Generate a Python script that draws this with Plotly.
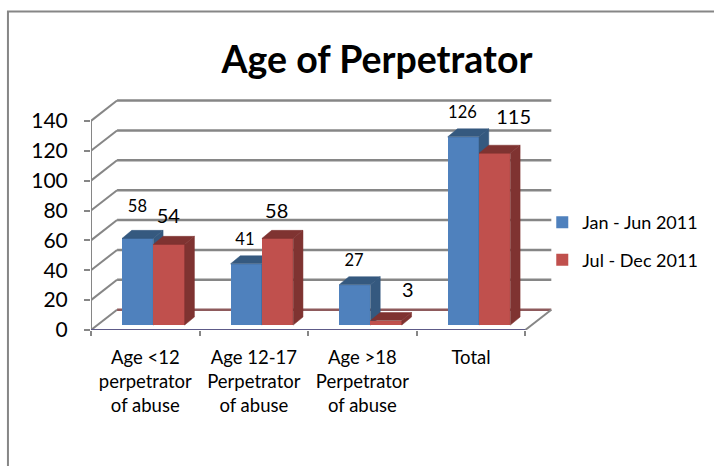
import plotly.graph_objects as go

# ---- data ----
title_text = "Age of Perpetrator"
categories = ["Age &lt;12<br>perpetrator<br>of abuse", "Age 12-17<br>Perpetrator<br>of abuse",
              "Age &gt;18<br>Perpetrator<br>of abuse", "Total"]
series_names = ["Jan - Jun 2011", "Jul - Dec 2011"]
jan_jun = [58, 41, 27, 126]
jul_dec = [54, 58, 3, 115]
y_ticks = [0, 20, 40, 60, 80, 100, 120, 140]

# ---- styling / geometry ----
BLUE, BLUE_DK = "#4F81BD", "#35597F"
RED, RED_DK = "#C0504D", "#7F3331"
GRID = "#868686"
FONT = "Lato, Carlito, Calibri, sans-serif"
W, H = 714, 466
PX_X, PX_Y = 108.5, 1.498         # pixels per category / per y unit
L, B = 91, 330.3                  # pixel position of the axes origin
X_MAX, Y_MAX = 4.32, 158
R, T = L + X_MAX * PX_X, B - Y_MAX * PX_Y
WALL_DX, WALL_DY = 0.24, 13.6     # depth of the back wall
BAR_W = 0.2885
BAR_SHIFT = 0.074
BAR_BASE = 3.3
BAR_DX, BAR_DY = 0.09, 5.4        # depth of a bar

blue_lab_dx = [-0.002, -0.012, -0.007, -0.008]
blue_lab_dy = [23.6, 18.8, 18.8, 18.4]
red_lab_dx = [-0.006, -0.008, 0.2, 0.175]
red_lab_dy = [20.9, 20.5, 22.5, 26.0]

n = len(categories)


def px(x):
    return (x - L) / (R - L)


def py(y):
    return (B - y) / (B - T)


def faces(x0, top):
    """Side and top parallelograms of a bar whose front starts at x0."""
    x1 = x0 + BAR_W
    y0, y1 = BAR_BASE, BAR_BASE + top
    side = ([x1, x1 + BAR_DX, x1 + BAR_DX, x1, x1], [y0, y0 + BAR_DY, y1 + BAR_DY, y1, y0])
    lid = ([x0, x1, x1 + BAR_DX, x0 + BAR_DX, x0], [y1, y1, y1 + BAR_DY, y1 + BAR_DY, y1])
    return side, lid


def line(fig_, xs, ys, colour, width):
    fig_.add_trace(go.Scatter(x=xs, y=ys, mode="lines", cliponaxis=False,
                              line=dict(color=colour, width=width),
                              hoverinfo="skip", showlegend=False))


fig = go.Figure()

# walls: tick lines running round the side wall and along the back wall
for v in y_ticks:
    line(fig, [0, WALL_DX], [v, v + WALL_DY], GRID, 2)
    line(fig, [WALL_DX, n + WALL_DX], [v + WALL_DY, v + WALL_DY], "#8E5A5C" if v == 0 else GRID, 2.5)
line(fig, [n, n + WALL_DX], [0, WALL_DY], GRID, 2)
line(fig, [0, 0], [0, y_ticks[-1]], GRID, 2)
line(fig, [0, n], [0, 0], "#5D5A88", 2)


def add_series(name, values, offset, front, dark, ax):
    xs = [i + 0.5 + BAR_SHIFT + offset for i in range(n)]
    fig.add_trace(go.Bar(x=xs, y=values, base=BAR_BASE, width=BAR_W, name=name,
                         marker=dict(color=front, line=dict(width=0)),
                         xaxis="x" + ax, yaxis="y" + ax, legendgroup=name))
    for i, v in enumerate(values):
        left = xs[i] - BAR_W / 2
        side, lid = faces(left, v)
        for (fx, fy), c in ((side, dark), (lid, dark)):
            fig.add_trace(go.Scatter(x=fx, y=fy, mode="lines", fill="toself", fillcolor=c,
                                     line=dict(color=c, width=0.5), cliponaxis=False,
                                     xaxis="x" + ax, yaxis="y" + ax, hoverinfo="skip",
                                     showlegend=False))


add_series(series_names[0], jan_jun, -BAR_W / 2, BLUE, BLUE_DK, "2")
add_series(series_names[1], jul_dec, BAR_W / 2, RED, RED_DK, "3")

# data labels
fig.add_trace(go.Scatter(
    x=[i + 0.5 + BAR_SHIFT - BAR_W / 2 + blue_lab_dx[i] for i in range(n)],
    y=[jan_jun[i] + blue_lab_dy[i] for i in range(n)],
    text=[str(v) for v in jan_jun], mode="text", textposition="middle center", cliponaxis=False,
    textfont=dict(family=FONT, size=16.5, color="#000000"),
    xaxis="x3", yaxis="y3", hoverinfo="skip", showlegend=False))
fig.add_trace(go.Scatter(
    x=[i + 0.5 + BAR_SHIFT + BAR_W / 2 + red_lab_dx[i] for i in range(n)],
    y=[jul_dec[i] + red_lab_dy[i] for i in range(n)],
    text=[str(v) for v in jul_dec], mode="text", textposition="middle center", cliponaxis=False,
    textfont=dict(family=FONT, size=20, color="#000000"),
    xaxis="x3", yaxis="y3", hoverinfo="skip", showlegend=False))

frame = "M%f,%f L%f,%f L%f,%f" % (px(8), py(H + 5), px(8), py(11), px(W + 5), py(11))

hidden = dict(visible=False, fixedrange=True)
fig.update_layout(
    width=W, height=H, autosize=False,
    margin=dict(l=L, r=W - R, t=T, b=H - B, pad=0, autoexpand=False),
    paper_bgcolor="white", plot_bgcolor="rgba(0,0,0,0)",
    font=dict(family=FONT, color="#000000"),
    title=dict(text="<b>%s</b>" % title_text, x=377 / W, xanchor="center", y=1 - 60 / H, yanchor="middle",
               font=dict(family=FONT, size=37.5, color="#000000")),
    xaxis=dict(range=[0, X_MAX], tickmode="array", tickvals=[i + 0.5 for i in range(n)], ticktext=categories,
               ticks="", tickangle=0, tickfont=dict(family=FONT, size=18.5), ticklabelstandoff=14,
               minor=dict(tickmode="array", tickvals=list(range(n + 1)), ticks="outside", ticklen=5,
                          tickcolor=GRID, tickwidth=1.5),
               showgrid=False, zeroline=False, showline=False),
    yaxis=dict(range=[0, Y_MAX], tickmode="array", tickvals=y_ticks, ticks="outside", ticklen=6,
               tickcolor=GRID, tickwidth=1.5, tickfont=dict(family=FONT, size=21), ticklabelstandoff=12,
               showgrid=False, zeroline=False, showline=False),
    xaxis2=dict(range=[0, X_MAX], overlaying="x", **hidden),
    yaxis2=dict(range=[0, Y_MAX], overlaying="y", **hidden),
    xaxis3=dict(range=[0, X_MAX], overlaying="x", **hidden),
    yaxis3=dict(range=[0, Y_MAX], overlaying="y", **hidden),
    legend=dict(x=px(542), xanchor="left", y=py(204), yanchor="top",
                traceorder="grouped", tracegroupgap=11, font=dict(family=FONT, size=18),
                bgcolor="rgba(0,0,0,0)", itemclick=False, itemdoubleclick=False),
    shapes=[dict(type="path", path=frame, xref="paper", yref="paper", line=dict(color=GRID, width=2))],
    bargap=0,
)

fig.write_html("out.html", config={"displayModeBar": False}, post_script="document.body.style.margin='0';")
